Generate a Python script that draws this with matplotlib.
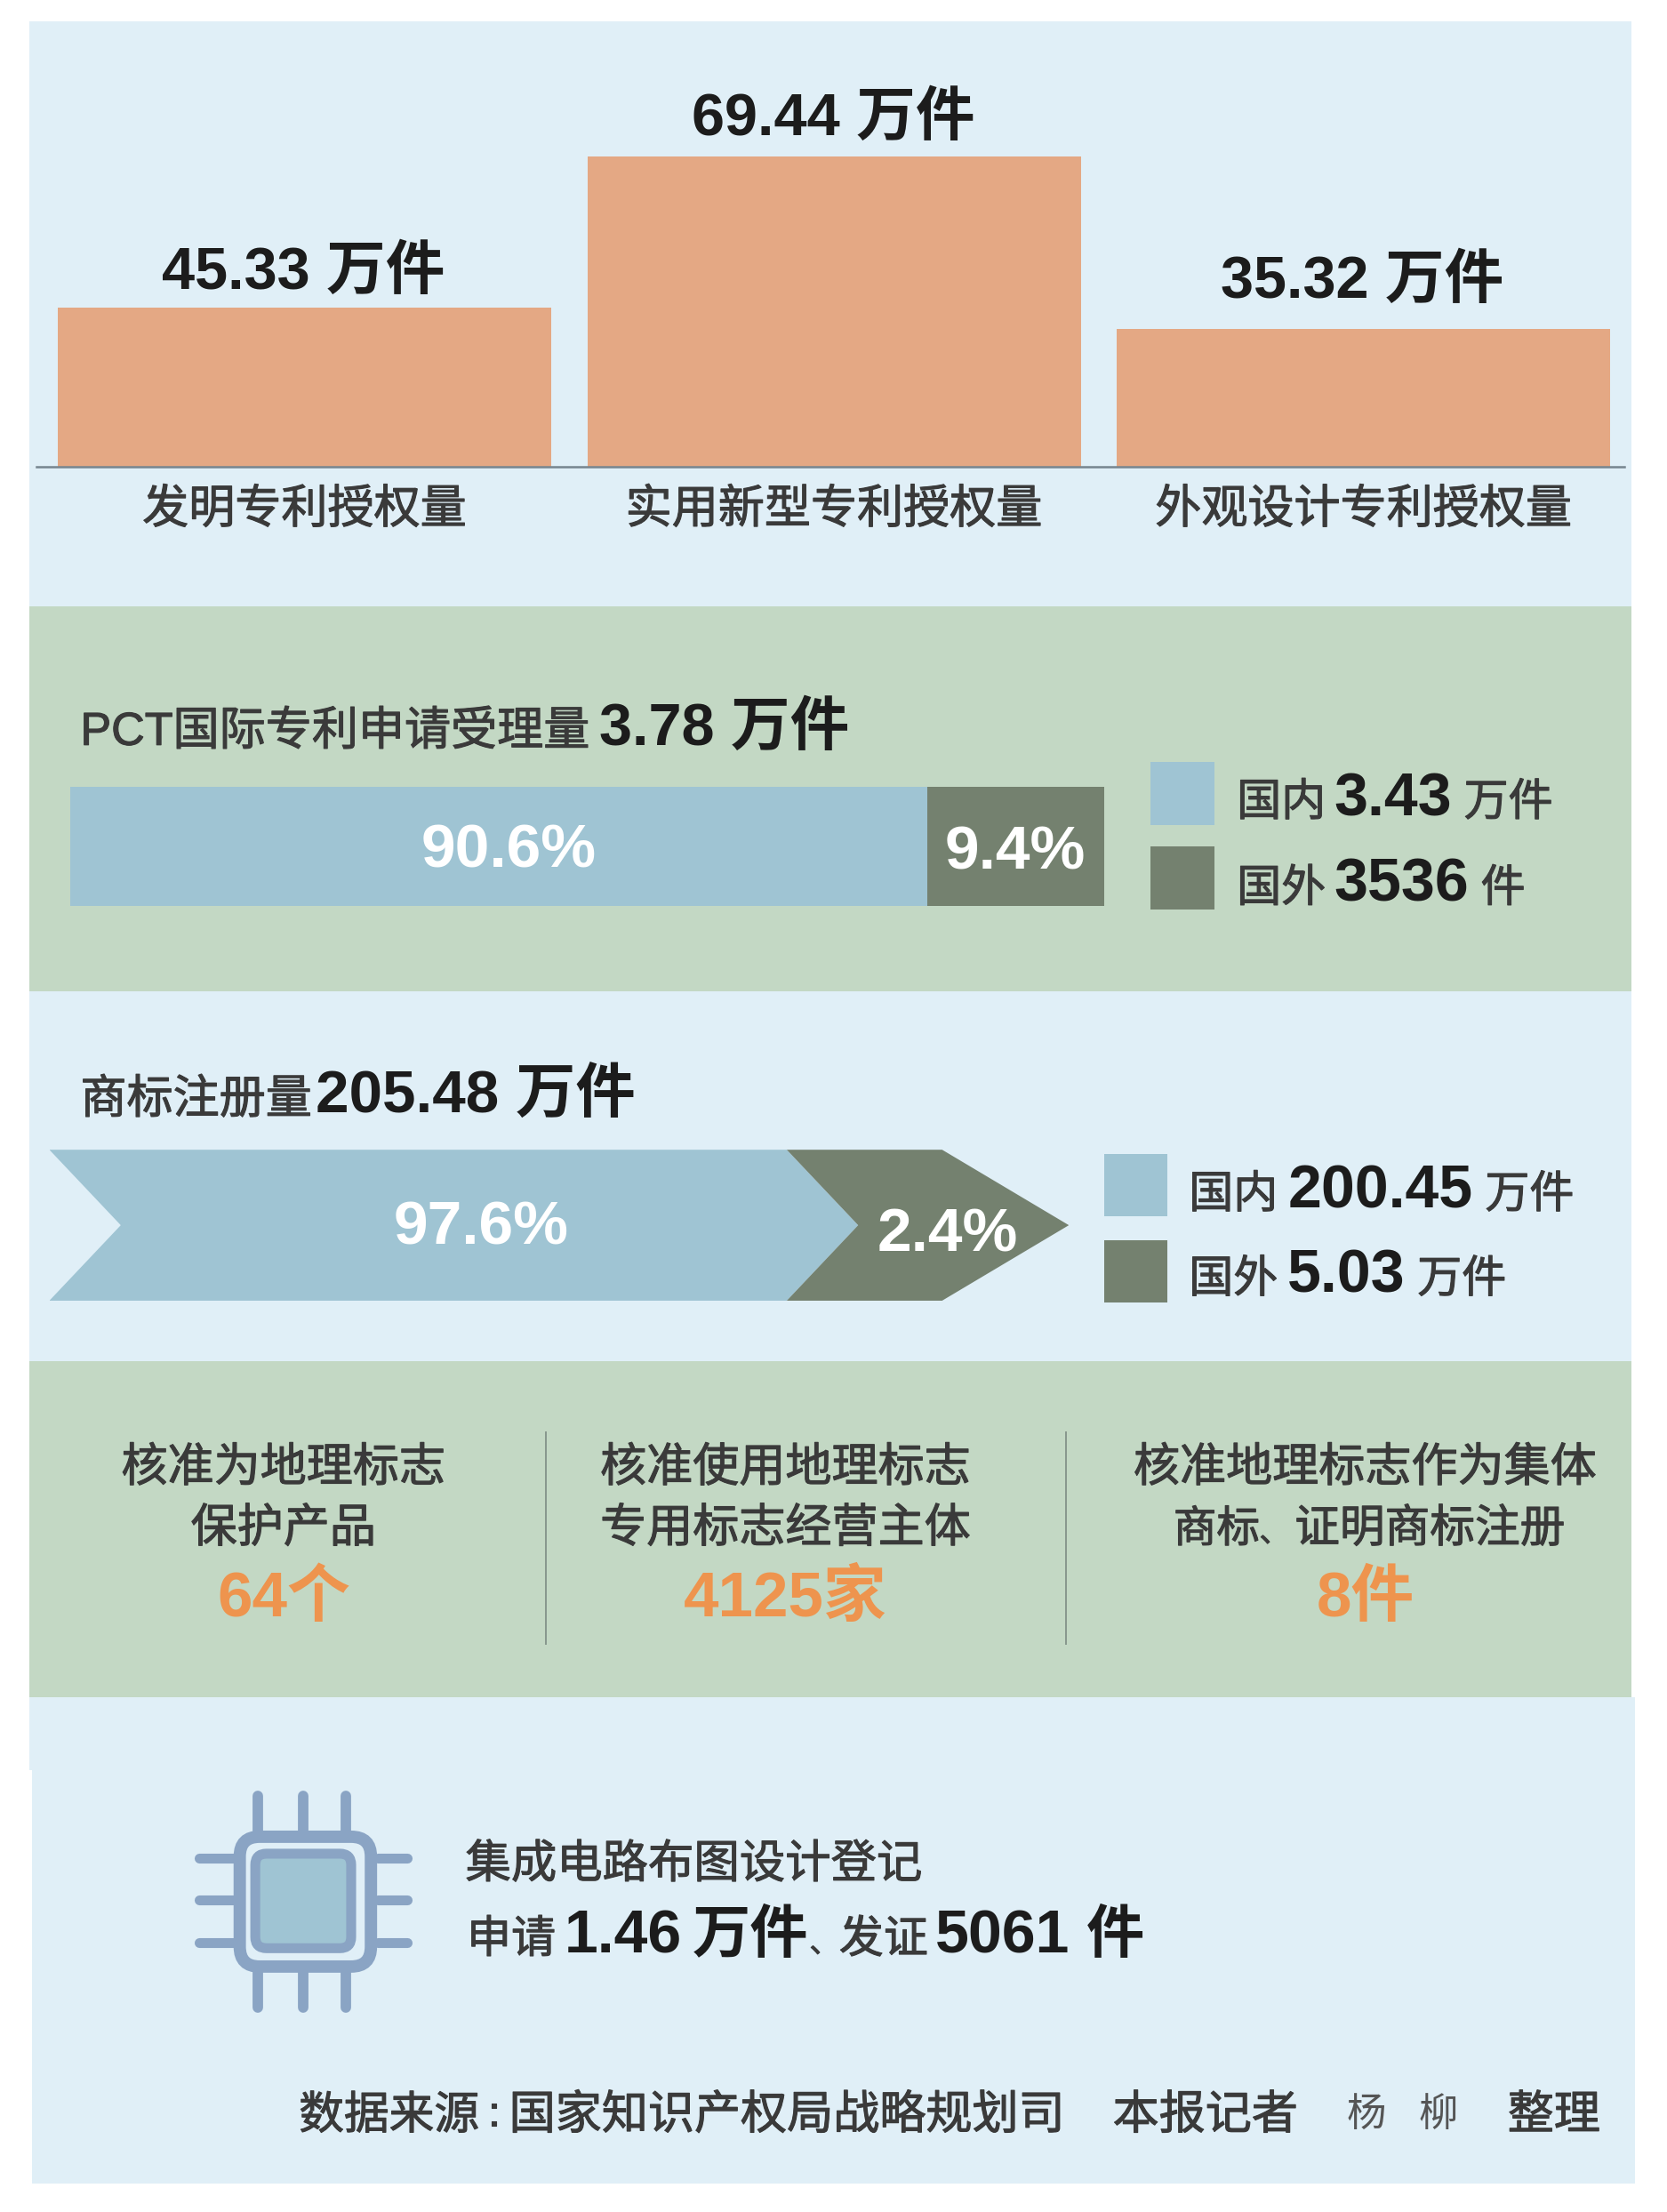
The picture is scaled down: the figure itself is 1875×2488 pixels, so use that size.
import matplotlib
matplotlib.use("Agg")
import matplotlib.pyplot as plt
import matplotlib.patheffects as pe
from matplotlib.patches import FancyBboxPatch, Polygon, Rectangle

plt.rcParams['font.family'] = ['Liberation Sans', 'Noto Sans CJK SC', 'DejaVu Sans']

# patents granted, the printed numbers and how tall the bars are actually drawn
grant_names = ["发明专利授权量", "实用新型专利授权量", "外观设计专利授权量"]
grant_labels = ["45.33 万件", "69.44 万件", "35.32 万件"]
grant_drawn = [35.67, 69.44, 30.93]

# the printed shares do not match the drawn split in the source graphic
pct_drawn = [82.9, 17.1]
pct_labels = ["90.6%", "9.4%"]
tm_drawn = [82.6, 17.4]
tm_labels = ["97.6%", "2.4%"]

geo_titles = [["核准为地理标志", "保护产品"], ["核准使用地理标志", "专用标志经营主体"],
              ["核准地理标志作为集体", None]]
geo_values = ["64个", "4125家", "8件"]

W, H = 1182, 1568
LIGHT, GREEN = "#E0EFF7", "#C3D8C4"
BLUE, DARK = "#9FC4D3", "#74816F"
ORANGE = "#E4A884"
INK, BLACK = "#3A3A3A", "#1C1C1C"
THICKEN = [pe.withStroke(linewidth=0.8, foreground=INK)]


def sub_axes(fig, x0, y0, x1, y1, zorder=2):
    ax = fig.add_axes([x0 / W, 1 - y1 / H, (x1 - x0) / W, (y1 - y0) / H], zorder=zorder)
    ax.patch.set_alpha(0)
    return ax


def put(x, y, s, size=37.5, weight="normal", color=INK, ha="left", va="baseline"):
    t = top.text(x, y, s, fontsize=size, fontweight=weight, color=color, ha=ha, va=va)
    if weight == "normal" and color == INK:
        t.set_path_effects(THICKEN)
    return t


fig = plt.figure(figsize=(18.75, 24.88), dpi=100, facecolor="white")
back = sub_axes(fig, 0, 0, W, H, zorder=0)
top = sub_axes(fig, 0, 0, W, H, zorder=5)
for a in (back, top):
    a.set_xlim(0, W)
    a.set_ylim(H, 0)
    a.axis("off")

# panels
panels = [(21, 15, 1157, 430, LIGHT), (21, 430, 1157, 703, GREEN), (21, 703, 1157, 965, LIGHT),
          (21, 965, 1157, 1203, GREEN), (23, 1203, 1159, 1548, LIGHT), (21, 1203, 23, 1255, LIGHT)]
for x0, y0, x1, y1, c in panels:
    back.add_patch(Rectangle((x0, y0), x1 - x0, y1 - y0, fc=c, ec="none"))

# grants bar chart
ax = sub_axes(fig, 26, 15, 1152, 331)
bars = ax.bar(range(3), grant_drawn, width=0.932, color=ORANGE)
ax.set_xlim(-0.506, 2.493)
ax.set_ylim(0, 69.44 * 316 / 220)
ax.set_yticks([])
ax.set_xticks(range(3), grant_names, fontsize=37.5, color=INK)
ax.tick_params(axis="x", length=0, pad=18)
for lab in ax.get_xticklabels():
    lab.set_path_effects(THICKEN)
for side in ("top", "left", "right"):
    ax.spines[side].set_visible(False)
ax.spines["bottom"].set_color("#76858F")
ax.spines["bottom"].set_linewidth(1.8)
for xc, yb, s in zip((215, 591, 966), (205, 96, 211), grant_labels):
    put(xc, yb, s, 48, "bold", BLACK, ha="center")

# PCT
put(57, 528, "PCT国际专利申请受理量")
put(425, 528, "3.78 万件", 48, "bold", BLACK)
ax = sub_axes(fig, 50, 558, 783, 642)
ax.barh([0], [pct_drawn[0]], height=1, color=BLUE)
ax.barh([0], [pct_drawn[1]], left=[pct_drawn[0]], height=1, color=DARK)
ax.set_xlim(0, 100)
ax.set_ylim(-0.5, 0.5)
ax.axis("off")
put(361, 615, pct_labels[0], 50, "bold", "white", ha="center")
put(720, 616, pct_labels[1], 50, "bold", "white", ha="center")

for y0, c in ((540, BLUE), (600, DARK)):
    top.add_patch(Rectangle((816, y0), 45, 45, fc=c, ec="none"))
put(877, 578, "国内", 36)
put(946, 578, "3.43", 49, "bold", BLACK)
put(1038, 578, "万件", 36)
put(877, 639, "国外", 36)
put(946, 639, "3536", 49, "bold", BLACK)
put(1050, 639, "件", 36)

# trademarks
put(57, 789, "商标注册量")
put(224, 789, "205.48 万件", 48.5, "bold", BLACK)
ax = sub_axes(fig, 35, 815, 758, 922)
ax.set_xlim(0, 100 * 723 / 633)
ax.set_ylim(0, 1)
ax.axis("off")
notch, tip = 8.0, 14.2
split = tm_drawn[0]
end = tm_drawn[0] + tm_drawn[1]
ax.add_patch(Polygon([(0, 1), (split, 1), (split + notch, 0.5), (split, 0), (0, 0), (notch, 0.5)],
                     fc=BLUE, ec="none"))
ax.add_patch(Polygon([(split, 1), (end, 1), (end + tip, 0.5), (end, 0), (split, 0), (split + notch, 0.5)],
                     fc=DARK, ec="none"))
put(341, 882, tm_labels[0], 50, "bold", "white", ha="center")
put(672, 887, tm_labels[1], 50, "bold", "white", ha="center")

for y0, c in ((818, BLUE), (879, DARK)):
    top.add_patch(Rectangle((783, y0), 45, 44, fc=c, ec="none"))
put(843, 856, "国内", 36)
put(913, 856, "200.45", 49, "bold", BLACK)
put(1053, 856, "万件", 36)
put(843, 916, "国外", 36)
put(913, 916, "5.03", 49, "bold", BLACK)
put(1005, 916, "万件", 36)

# geographical indications
for xc, lines, val in zip((201, 557, 968), geo_titles, geo_values):
    put(xc, 1050, lines[0], ha="center")
    if lines[1]:
        put(xc, 1093, lines[1], ha="center")
    put(xc, 1146, val, 51, "bold", "#EE944E", ha="center")
put(832, 1093, "商标", 35)
put(893, 1093, "、", 24)
put(918, 1093, "证明商标注册", 36.5)
for x in (387, 756):
    top.plot([x, x], [1015, 1165], color="#87978D", lw=1.4)

# chip icon
CHIP = "#8AA4C4"
for x in (183, 215, 245):
    top.plot([x, x], [1273, 1298], color=CHIP, lw=8.5, solid_capstyle="round")
    top.plot([x, x], [1395, 1423], color=CHIP, lw=8.5, solid_capstyle="round")
for y in (1317, 1347, 1377):
    top.plot([141, 165], [y, y], color=CHIP, lw=8, solid_capstyle="round")
    top.plot([268, 289], [y, y], color=CHIP, lw=8, solid_capstyle="round")
top.add_patch(FancyBboxPatch((170, 1302), 93, 92, boxstyle="round,pad=0,rounding_size=14",
                             fc=LIGHT, ec=CHIP, lw=10))
top.add_patch(FancyBboxPatch((181, 1314), 68, 67, boxstyle="round,pad=0,rounding_size=8",
                             fc=BLUE, ec=CHIP, lw=8))

put(330, 1331, "集成电路布图设计登记", 37)
put(331, 1384, "申请", 36)
put(400, 1384, "1.46", 49, "bold", BLACK)
put(491, 1384, "万件", 47, "bold", BLACK)
put(574, 1384, "、", 24)
put(595, 1384, "发证", 36)
put(663, 1384, "5061", 49, "bold", BLACK)
put(770, 1384, "件", 47, "bold", BLACK)

# source line
put(212, 1509, "数据来源", 36.5)
put(346, 1507, ":", 34)
put(361, 1509, "国家知识产权局战略规划司")
put(789, 1509, "本报记者")
put(955, 1507, "杨", 32, color="#555555")
put(1006, 1507, "柳", 32, color="#555555")
put(1069, 1509, "整理")

fig.savefig("out.png", dpi=100)
